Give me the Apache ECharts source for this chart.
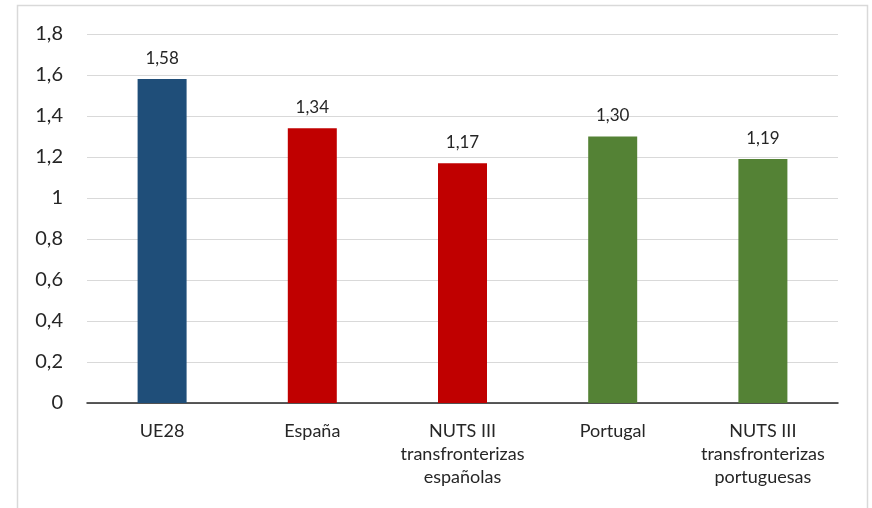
<!DOCTYPE html>
<html>
<head>
<meta charset="utf-8">
<script src="https://cdn.jsdelivr.net/npm/echarts@6/dist/echarts.min.js"></script>
<style>
html,body{margin:0;padding:0;background:#fff;}
#c{width:872px;height:508px;}
</style>
</head>
<body>
<div id="c"></div>
<script>
var categories = ['UE28', 'España', 'NUTS III\ntransfronterizas\nespañolas', 'Portugal', 'NUTS III\ntransfronterizas\nportuguesas'];
var values = [1.58, 1.34, 1.17, 1.30, 1.19];
var barColors = ['#1F4E79', '#C00000', '#C00000', '#548235', '#548235'];
var yTicks = { min: 0, max: 1.8, interval: 0.2 };

var FONT = 'Lato, "Open Sans", sans-serif';
var chart = echarts.init(document.getElementById('c'));
chart.setOption({
  animation: false,
  graphic: [{
    type: 'rect',
    shape: { x: 17.5, y: 5.5, width: 850, height: 520 },
    style: { fill: 'none', stroke: '#D9D9D9', lineWidth: 1.5 },
    silent: true
  }],
  grid: { left: 87, right: 34, top: 34, bottom: 105 },
  xAxis: {
    type: 'category',
    data: categories,
    axisLine: { lineStyle: { color: '#262626', width: 1.5 } },
    axisTick: { show: false },
    axisLabel: { color: '#262626', fontSize: 18, fontFamily: FONT, lineHeight: 23, margin: 17, interval: 0 }
  },
  yAxis: {
    type: 'value',
    min: yTicks.min, max: yTicks.max, interval: yTicks.interval,
    axisLine: { show: false },
    axisTick: { show: false },
    splitLine: { lineStyle: { color: '#D9D9D9', width: 1.2 } },
    axisLabel: {
      color: '#262626', fontSize: 20, fontFamily: FONT, margin: 24,
      formatter: function (v) { return String(Math.round(v * 10) / 10).replace('.', ','); }
    }
  },
  series: [{
    type: 'bar',
    data: values.map(function (v, i) { return { value: v, itemStyle: { color: barColors[i] } }; }),
    barWidth: 49,
    label: {
      show: true, position: 'top', distance: 12,
      color: '#262626', fontSize: 17, fontFamily: FONT,
      formatter: function (p) { return p.value.toFixed(2).replace('.', ','); }
    }
  }]
});
</script>
</body>
</html>
